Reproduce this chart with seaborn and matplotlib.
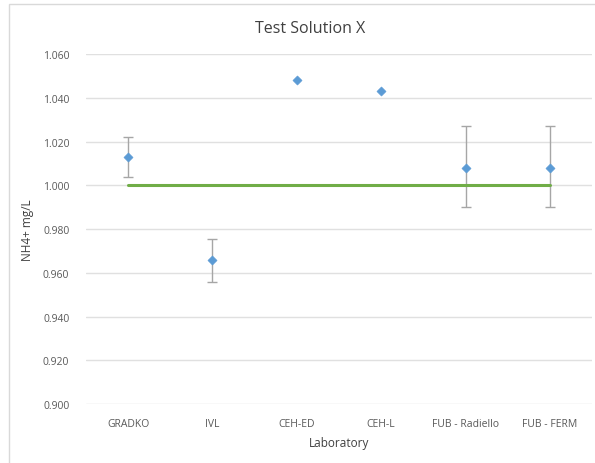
import seaborn as sns
import matplotlib.pyplot as plt
import pandas as pd
from matplotlib.patches import Rectangle

labs = ["GRADKO", "IVL", "CEH-ED", "CEH-L", "FUB - Radiello", "FUB - FERM"]
conc = [1.013, 0.966, 1.048, 1.043, 1.008, 1.008]
err_hi = [1.022, 0.9755, None, None, 1.027, 1.027]
err_lo = [1.004, 0.956, None, None, 0.990, 0.990]
ref = [1.000, 1.000, 1.000, 1.000, 1.000, 1.000]

df = pd.DataFrame({"Laboratory": labs, "conc": conc, "ref": ref,
                   "hi": err_hi, "lo": err_lo})
df["pos"] = range(len(df))

sns.set_style("white")
plt.rcParams["font.family"] = ["Open Sans", "DejaVu Sans"]

fig = plt.figure(figsize=(5.95, 4.64), dpi=100)
ax = fig.add_axes([0.1445, 0.127, 0.8505, 0.754])

fig.patches.append(Rectangle((9 / 595, -0.01), 1.0, 1 - 5 / 464 + 0.01,
                             transform=fig.transFigure, fill=False,
                             edgecolor="#d9d9d9", linewidth=1))

# error bars
eb = df.dropna(subset=["hi"])
ax.errorbar(eb["pos"], eb["conc"],
            yerr=[eb["conc"] - eb["lo"], eb["hi"] - eb["conc"]],
            fmt="none", ecolor="#a6a6a6", elinewidth=1, capsize=3.5, capthick=1,
            zorder=2)

sns.lineplot(data=df, x="pos", y="ref", color="#70ad47", linewidth=2.2, ax=ax,
             zorder=3)
sns.scatterplot(data=df, x="pos", y="conc", marker="D", s=22, color="#5b9bd5",
                edgecolor="#5b9bd5", ax=ax, zorder=4)

ax.set_xlim(-0.5, len(labs) - 0.5)
ax.set_ylim(0.9, 1.06)
ax.set_yticks([0.90 + 0.02 * i for i in range(9)])
ax.set_yticklabels([f"{0.90 + 0.02 * i:.3f}" for i in range(9)])
ax.set_xticks(df["pos"])
ax.set_xticklabels(labs)
ax.grid(axis="y", color="#e0e0e0", linewidth=1)
ax.set_axisbelow(True)
for s in ax.spines.values():
    s.set_visible(False)
ax.tick_params(axis="both", length=0, labelsize=7.5, colors="#595959", pad=12)
ax.tick_params(axis="x", pad=10)

ax.set_xlabel("Laboratory", fontsize=8.5, color="#404040", labelpad=5)
ax.set_ylabel("NH4+ mg/L", fontsize=8.5, color="#404040", labelpad=6)
fig.text(0.522, 0.938, "Test Solution X", ha="center", va="center",
         fontsize=11.5, color="#404040")

plt.savefig("out.png", dpi=100)
